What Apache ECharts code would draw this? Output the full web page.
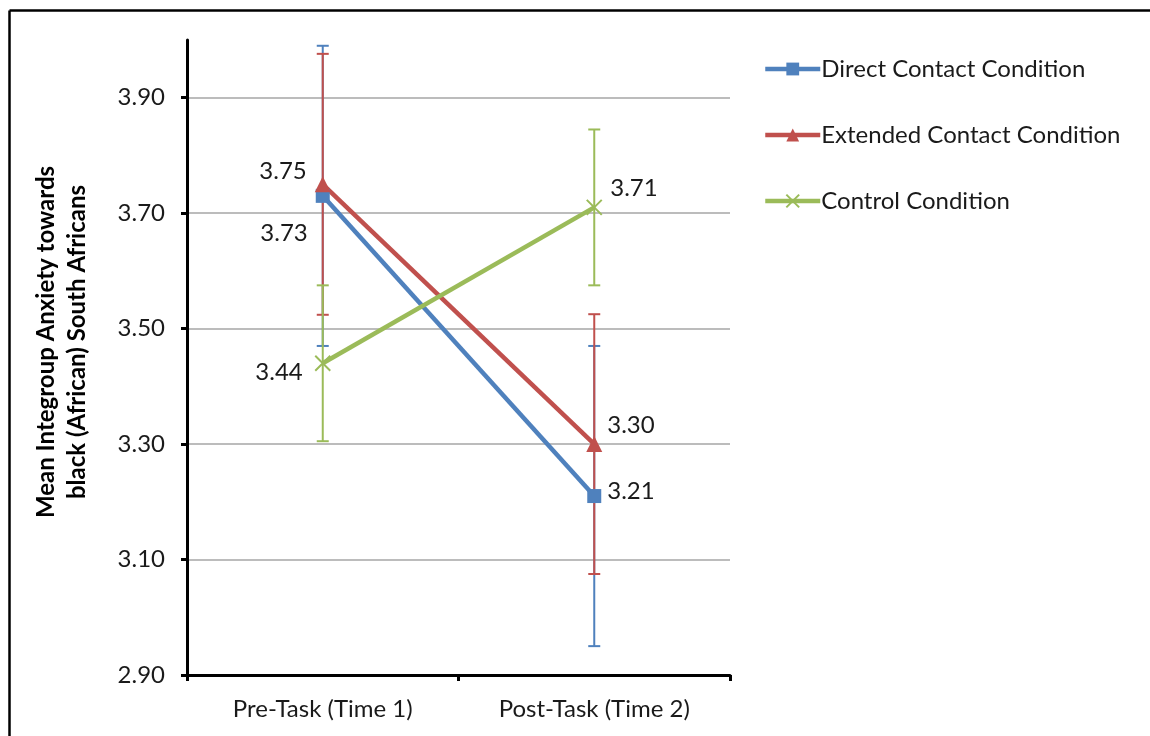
<!DOCTYPE html>
<html>
<head>
<meta charset="utf-8">
<script src="https://cdn.jsdelivr.net/npm/echarts@6/dist/echarts.min.js"></script>
<style>
html,body{margin:0;padding:0;background:#fff;}
#chart{width:1150px;height:736px;}
</style>
</head>
<body>
<div id="chart"></div>
<script>
const categories = ['Pre-Task (Time 1)', 'Post-Task (Time 2)'];
const seriesNames = ['Direct Contact Condition', 'Extended Contact Condition', 'Control Condition'];
const directMeans = [3.73, 3.21];
const extendedMeans = [3.75, 3.30];
const controlMeans = [3.44, 3.71];
const directErr = [0.26, 0.26];
const extendedErr = [0.226, 0.225];
const controlErr = [0.135, 0.135];
const yTicks = [2.9, 3.1, 3.3, 3.5, 3.7, 3.9];
const yAxisTitle = 'Mean Integroup Anxiety towards\nblack (African) South Africans';

const FONT = 'Lato';
const TXT = '#1a1a1a';
const colors = ['#4F81BD', '#C0504D', '#9BBB59'];

const chart = echarts.init(document.getElementById('chart'), null, {renderer: 'canvas'});

function errData(means, errs) {
  return means.map((m, i) => [i, +(m - errs[i]).toFixed(3), +(m + errs[i]).toFixed(3)]);
}
function errSeries(name, means, errs, color, z) {
  return {
    type: 'custom',
    name: name + ' err',
    z: z,
    silent: true,
    encode: {x: 0, y: [1, 2]},
    data: errData(means, errs),
    renderItem: function (params, api) {
      const x = api.value(0);
      const lo = api.coord([x, api.value(1)]);
      const hi = api.coord([x, api.value(2)]);
      const h = 6;
      const st = {stroke: color, lineWidth: 2};
      return {
        type: 'group',
        children: [
          {type: 'line', shape: {x1: lo[0], y1: lo[1], x2: hi[0], y2: hi[1]}, style: st},
          {type: 'line', shape: {x1: hi[0] - h, y1: hi[1], x2: hi[0] + h, y2: hi[1]}, style: st},
          {type: 'line', shape: {x1: lo[0] - h, y1: lo[1], x2: lo[0] + h, y2: lo[1]}, style: st}
        ]
      };
    }
  };
}

// label placement per point: [pre, post]
const labelCfg = {
  direct: [{position: 'left', distance: 8, offset: [0, 37]}, {position: 'right', distance: 6, offset: [0, -5]}],
  extended: [{position: 'left', distance: 8, offset: [0, -13]}, {position: 'right', distance: 5, offset: [0, -19]}],
  control: [{position: 'left', distance: 10, offset: [0, 9]}, {position: 'right', distance: 6, offset: [0, -19]}]
};

function lineSeries(name, means, color, symbol, symbolSize, cfg, extraItem) {
  return {
    type: 'line',
    name: name,
    z: 10,
    data: means.map((v, i) => ({
      value: v,
      label: Object.assign({show: true, formatter: p => p.value.toFixed(2)}, cfg[i])
    })),
    symbol: symbol,
    symbolSize: symbolSize,
    lineStyle: {color: color, width: 4.5},
    itemStyle: Object.assign({color: color}, extraItem || {}),
    label: {color: TXT, fontFamily: FONT, fontSize: 24},
    emphasis: {disabled: true}
  };
}

const option = {
  animation: false,
  backgroundColor: '#fff',
  color: colors,
  graphic: [
    {type: 'line', shape: {x1: 9.5, y1: 10.5, x2: 1150, y2: 10.5}, style: {stroke: '#000', lineWidth: 2.5}},
    {type: 'line', shape: {x1: 9.5, y1: 10.5, x2: 9.5, y2: 736}, style: {stroke: '#000', lineWidth: 2.5}},
    {
      type: 'text', x: 62, y: 342, rotation: Math.PI / 2,
      style: {
        text: yAxisTitle, fill: '#000', font: 'bold 24px Lato', lineHeight: 31,
        align: 'center', verticalAlign: 'middle'
      }
    }
  ],
  grid: {left: 187, right: 420, top: 40, bottom: 61, containLabel: false},
  legend: {
    orient: 'vertical',
    left: 763,
    top: 57,
    padding: 0,
    itemWidth: 55,
    itemHeight: 16,
    itemGap: 42,
    data: seriesNames,
    lineStyle: {width: 4.5},
    textStyle: {color: TXT, fontFamily: FONT, fontSize: 24, padding: [0, 0, 0, -4]}
  },
  xAxis: {
    type: 'category',
    data: categories,
    boundaryGap: true,
    axisLine: {lineStyle: {color: '#000', width: 3}},
    axisTick: {show: true, interval: 0, length: 6, lineStyle: {color: '#000', width: 3}},
    axisLabel: {color: TXT, fontFamily: FONT, fontSize: 24, margin: 22},
    splitLine: {show: false}
  },
  yAxis: {
    type: 'value',
    min: 2.9,
    max: 4.0,
    interval: 0.2,
    axisLine: {show: true, lineStyle: {color: '#000', width: 3}},
    axisTick: {show: true, length: 6, lineStyle: {color: '#000', width: 3}, customValues: yTicks},
    axisLabel: {color: TXT, fontFamily: FONT, fontSize: 24, margin: 22, formatter: v => v.toFixed(2), customValues: yTicks},
    splitLine: {show: true, showMinLine: false, lineStyle: {color: '#a6a6a6', width: 1.5}}
  },
  series: [
    errSeries(seriesNames[0], directMeans, directErr, colors[0], 2),
    errSeries(seriesNames[1], extendedMeans, extendedErr, colors[1], 3),
    errSeries(seriesNames[2], controlMeans, controlErr, colors[2], 4),
    lineSeries(seriesNames[0], directMeans, colors[0], 'rect', 14, labelCfg.direct),
    lineSeries(seriesNames[1], extendedMeans, colors[1], 'triangle', 16, labelCfg.extended),
    lineSeries(seriesNames[2], controlMeans, colors[2], 'path://M0,0L10,10M10,0L0,10', 15, labelCfg.control,
      {color: 'none', borderColor: colors[2], borderWidth: 2})
  ]
};
chart.setOption(option);
</script>
</body>
</html>
